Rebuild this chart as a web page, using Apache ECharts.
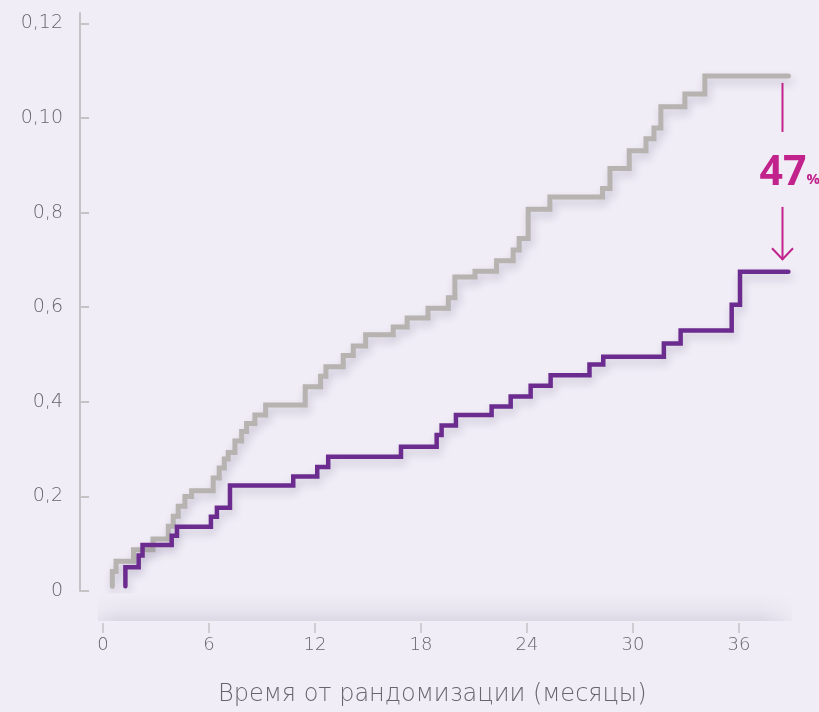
<!DOCTYPE html>
<html>
<head>
<meta charset="utf-8">
<script src="https://cdn.jsdelivr.net/npm/echarts@6/dist/echarts.min.js"></script>
<style>
html,body{margin:0;padding:0;background:#f0edf6;}
#chart{width:819px;height:712px;}
</style>
</head>
<body>
<div id="chart"></div>
<script>
// ---- data ----
const yTickValues = [0, 0.02, 0.04, 0.06, 0.08, 0.10, 0.12];
const yTickLabels = ['0', '0,2', '0,4', '0,6', '0,8', '0,10', '0,12'];
const xTickValues = [0, 6, 12, 18, 24, 30, 36];
const xTickLabels = ['0', '6', '12', '18', '24', '30', '36'];
const xAxisTitle = 'Время от рандомизации (месяцы)';

const greyMonths = [0.53, 0.53, 0.74, 1.73, 2.83, 3.70, 3.98, 4.26, 4.64, 5.02,
  6.24, 6.58, 6.87, 7.09, 7.47, 7.85, 8.13, 8.60, 9.21, 11.45,
  12.32, 12.62, 13.60, 14.17, 14.87, 16.43, 17.22, 18.40, 19.55, 19.92,
  21.06, 22.28, 23.22, 23.56, 24.07, 25.30, 28.28, 28.70, 29.79, 30.74,
  31.19, 31.58, 32.94, 34.07, 38.80];
const greyValues = [0.001, 0.0041, 0.0063, 0.0087, 0.0110, 0.0137, 0.0158, 0.0179, 0.0200, 0.0212,
  0.0239, 0.0260, 0.0279, 0.0293, 0.0317, 0.0337, 0.0354, 0.0372, 0.0393, 0.0432,
  0.0454, 0.0474, 0.0498, 0.0518, 0.0542, 0.0558, 0.0577, 0.0598, 0.0620, 0.0664,
  0.0676, 0.0698, 0.0721, 0.0745, 0.0807, 0.0833, 0.0851, 0.0893, 0.0931, 0.0956,
  0.0979, 0.1024, 0.1051, 0.1089, 0.1089];

const purpleMonths = [1.27, 1.27, 2.02, 2.24, 3.89, 4.19, 6.11, 6.45, 7.19, 10.77,
  12.13, 12.75, 16.87, 18.89, 19.17, 19.98, 22.00, 23.08, 24.21, 25.34,
  27.54, 28.32, 31.75, 32.70, 35.59, 36.06, 38.80];
const purpleValues = [0.001, 0.005, 0.0075, 0.0097, 0.0117, 0.0136, 0.0157, 0.0176, 0.0223, 0.0242,
  0.0262, 0.0284, 0.0305, 0.0330, 0.0350, 0.0372, 0.0390, 0.0411, 0.0434, 0.0456,
  0.0479, 0.0495, 0.0523, 0.0551, 0.0605, 0.0675, 0.0675];

const reductionText = '47';
const reductionUnit = '%';
const annotationMonth = 38.42;

// ---- chart ----
const FONT = "'DejaVu Sans', sans-serif";
const BG = '#f0edf6';
const AXIS_C = '#c6c3c7';
const TEXT_C = '#67666c';
const GREY = '#b6b3b0';
const PURPLE = '#6c2c8f';
const MAGENTA = '#c2228b';

const chart = echarts.init(document.getElementById('chart'), null, {renderer: 'canvas'});

function zip(a, b) { return a.map((v, i) => [v, b[i]]); }

const option = {
  backgroundColor: BG,
  animation: false,
  grid: {left: 80, right: 9.4, top: 13, bottom: 118.7, containLabel: false},
  xAxis: {
    type: 'value',
    min: -1.3,
    max: 40,
    position: 'bottom',
    offset: 32,
    axisLine: {show: false, onZero: false},
    axisTick: {show: true, length: 10, lineStyle: {color: AXIS_C, width: 1.5}, customValues: xTickValues},
    axisLabel: {
      customValues: xTickValues,
      margin: 13,
      color: TEXT_C,
      fontFamily: FONT,
      fontWeight: 200,
      fontSize: 18,
      formatter: v => xTickLabels[xTickValues.indexOf(v)] ?? ''
    },
    splitLine: {show: false},
    name: xAxisTitle,
    nameLocation: 'middle',
    nameGap: 60,
    nameTextStyle: {color: TEXT_C, fontFamily: FONT, fontWeight: 200, fontSize: 24, padding: [0, 25, 0, 0]}
  },
  yAxis: {
    type: 'value',
    min: 0,
    max: 0.1222,
    axisLine: {show: true, onZero: false, lineStyle: {color: AXIS_C, width: 2}},
    axisTick: {show: true, inside: true, length: 9, lineStyle: {color: AXIS_C, width: 2}, customValues: yTickValues},
    axisLabel: {
      customValues: yTickValues,
      margin: 17,
      color: TEXT_C,
      fontFamily: FONT,
      fontWeight: 200,
      fontSize: 19,
      formatter: v => {
        const i = yTickValues.findIndex(t => Math.abs(t - v) < 1e-9);
        return i >= 0 ? yTickLabels[i] : '';
      }
    },
    splitLine: {show: false}
  },
  graphic: [],
  series: [
    {
      type: 'line',
      step: 'end',
      data: zip(greyMonths, greyValues),
      showSymbol: false,
      symbol: 'none',
      z: 3,
      lineStyle: {color: GREY, width: 5, cap: 'round', join: 'miter',
        shadowColor: 'rgba(70,55,100,0.22)', shadowBlur: 8, shadowOffsetX: 2, shadowOffsetY: 5}
    },
    {
      type: 'line',
      step: 'end',
      data: zip(purpleMonths, purpleValues),
      showSymbol: false,
      symbol: 'none',
      z: 4,
      lineStyle: {color: PURPLE, width: 4.5, cap: 'round', join: 'miter',
        shadowColor: 'rgba(70,55,100,0.22)', shadowBlur: 8, shadowOffsetX: 2, shadowOffsetY: 5}
    }
  ]
};
chart.setOption(option);

// annotation & decorative shadow band, positioned from the data scales
const gEnd = chart.convertToPixel({gridIndex: 0}, [annotationMonth, greyValues[greyValues.length - 1]]);
const pEnd = chart.convertToPixel({gridIndex: 0}, [annotationMonth, purpleValues[purpleValues.length - 1]]);
const zero = chart.convertToPixel({gridIndex: 0}, [0, 0]);
const right = chart.convertToPixel({gridIndex: 0}, [39, 0]);
const ax = Math.round(gEnd[0]) + 0.5;
const gy = gEnd[1], py = pEnd[1];
const textY = gy + 95;

chart.setOption({
  graphic: [
    {
      type: 'rect', silent: true, z: 0,
      shape: {x: zero[0] - 5, y: zero[1] + 3, width: right[0] - zero[0] + 5, height: 27},
      style: {
        fill: new echarts.graphic.LinearGradient(0, 0, 0, 1, [
          {offset: 0, color: 'rgba(110,100,130,0)'},
          {offset: 0.6, color: 'rgba(110,100,130,0.06)'},
          {offset: 1, color: 'rgba(110,100,130,0.16)'}
        ])
      }
    },
    {
      type: 'rect', silent: true, z: 0,
      shape: {x: zero[0] - 25, y: zero[1] + 3, width: 40, height: 27},
      style: {
        fill: new echarts.graphic.LinearGradient(0, 0, 1, 0, [
          {offset: 0, color: BG}, {offset: 1, color: 'rgba(240,237,246,0)'}
        ])
      }
    },
    {
      type: 'rect', silent: true, z: 0,
      shape: {x: right[0] - 30, y: zero[1] + 3, width: 40, height: 27},
      style: {
        fill: new echarts.graphic.LinearGradient(0, 0, 1, 0, [
          {offset: 0, color: 'rgba(240,237,246,0)'}, {offset: 1, color: BG}
        ])
      }
    },
    {
      type: 'line', silent: true, z: 10,
      shape: {x1: ax, y1: gy + 7, x2: ax, y2: gy + 56},
      style: {stroke: MAGENTA, lineWidth: 2}
    },
    {
      type: 'line', silent: true, z: 10,
      shape: {x1: ax, y1: gy + 131, x2: ax, y2: py - 12},
      style: {stroke: MAGENTA, lineWidth: 2}
    },
    {
      type: 'polyline', silent: true, z: 10,
      shape: {points: [[ax - 10.5, py - 23.5], [ax, py - 12.5], [ax + 10.5, py - 23.5]]},
      style: {stroke: MAGENTA, lineWidth: 2, fill: null}
    },
    {
      type: 'text', silent: true, z: 10,
      style: {
        x: ax + 24, y: textY + 2, text: reductionText, fill: MAGENTA,
        font: "bold 41px 'Open Sans', sans-serif", align: 'right', verticalAlign: 'middle'
      }
    },
    {
      type: 'text', silent: true, z: 10,
      style: {
        x: ax + 24, y: textY + 9, text: reductionUnit, fill: MAGENTA,
        font: "bold 15px 'Open Sans', sans-serif", align: 'left', verticalAlign: 'middle'
      }
    }
  ]
});
</script>
</body>
</html>
